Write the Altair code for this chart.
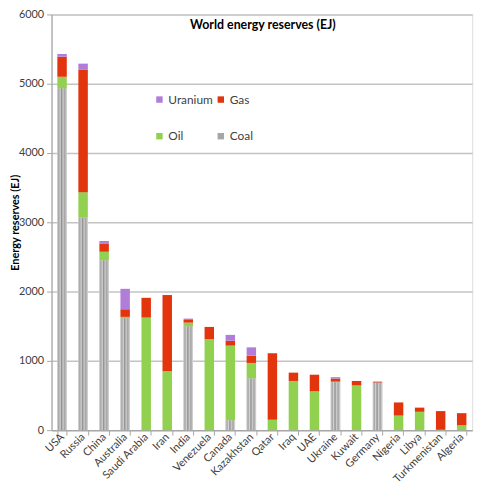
import altair as alt
import pandas as pd

countries = ["USA", "Russia", "China", "Australia", "Saudi Arabia", "Iran", "India",
             "Venezuela", "Canada", "Kazakhstan", "Qatar", "Iraq", "UAE", "Ukraine",
             "Kuwait", "Germany", "Nigeria", "Libya", "Turkmenistan", "Algeria"]
coal = [4930, 3070, 2450, 1610, 0, 0, 1495, 0, 140, 745, 0, 0, 0, 690, 0, 685, 0, 0, 0, 0]
oil = [170, 365, 125, 25, 1625, 850, 57, 1310, 1080, 225, 150, 710, 560, 10, 645, 0, 210, 265, 5, 70]
gas = [290, 1770, 120, 110, 285, 1100, 38, 180, 70, 105, 960, 120, 240, 45, 65, 15, 190, 60, 270, 175]
uranium = [40, 85, 35, 295, 0, 0, 20, 0, 85, 120, 0, 0, 0, 20, 0, 0, 0, 0, 0, 0]

sources = ["Coal", "Oil", "Gas", "Uranium"]
legend_order = ["Uranium", "Gas", "Oil", "Coal"]
colors = ["#b07ed8", "#e2350e", "#92d050", "#a6a6a6"]

rows = []
for i, c in enumerate(countries):
    for k, (s, vals) in enumerate(zip(sources, [coal, oil, gas, uranium])):
        rows.append({"country": c, "source": s, "value": vals[i], "stackorder": k})
df = pd.DataFrame(rows)

FONT = "Lato"
W, H = 425, 420

x_enc = alt.X("country:N", sort=countries, title=None,
              scale=alt.Scale(paddingInner=0.55, paddingOuter=0.275),
              axis=alt.Axis(labelAngle=-45, labelAlign="right", labelBaseline="middle",
                            labelFontSize=11, labelColor="#404040", labelFont=FONT,
                            tickBand="extent", tickSize=5, tickColor="#a6a6a6",
                            domainColor="#a6a6a6", domainWidth=1.2, labelPadding=0,
                            grid=False))

bars = alt.Chart(df).mark_bar().encode(
    x=x_enc,
    y=alt.Y("sum(value):Q", title="Energy reserves (EJ)",
            scale=alt.Scale(domain=[0, 6000], nice=False),
            axis=alt.Axis(values=[0, 1000, 2000, 3000, 4000, 5000, 6000], format="d",
                          labelFontSize=11, labelColor="#404040", labelFont=FONT,
                          titleFont=FONT, titleFontSize=11, titleFontWeight="bold",
                          titleColor="#000000", titleX=-36, titleY=H / 2,
                          titleAngle=-90, titleBaseline="middle", titleAlign="center",
                          tickSize=5, tickColor="#a6a6a6", domainColor="#a6a6a6",
                          domainWidth=1.2, gridColor="#c4c4c4", gridWidth=1.5,
                          labelPadding=3)),
    color=alt.Color("source:N", scale=alt.Scale(domain=legend_order, range=colors),
                    legend=alt.Legend(title=None, orient="none", legendX=103, legendY=80,
                                      direction="horizontal",
                                      columns=2, rowPadding=25, columnPadding=1,
                                      symbolType="square", symbolSize=42,
                                      symbolStrokeWidth=0, labelFont=FONT,
                                      labelFontSize=12, labelColor="#404040",
                                      labelOffset=3, padding=0)),
    order=alt.Order("stackorder:Q", sort="ascending"),
)

coal_tex = alt.Chart(df).transform_filter(alt.datum.source == "Coal").mark_bar(
    fill={"gradient": "linear", "x1": 0, "x2": 1, "y1": 0, "y2": 0,
          "stops": [{"offset": 0, "color": "#dadada"},
                    {"offset": 0.15, "color": "#a0a0a0"},
                    {"offset": 0.3, "color": "#d4d4d4"},
                    {"offset": 0.45, "color": "#8e8e8e"},
                    {"offset": 0.6, "color": "#cccccc"},
                    {"offset": 0.78, "color": "#a2a2a2"},
                    {"offset": 1, "color": "#dcdcdc"}]}
).encode(
    x=alt.X("country:N", sort=countries),
    y=alt.Y("value:Q", stack=None),
)

title = alt.Chart(pd.DataFrame({"t": ["World energy reserves (EJ)"]})).mark_text(
    font=FONT, fontSize=12.5, fontWeight="bold", color="#000000", baseline="middle"
).encode(text="t:N", x=alt.value(W / 2 + 1), y=alt.value(11))

chart = alt.layer(bars, coal_tex, title).properties(
    width=W, height=H,
    autosize=alt.AutoSizeParams(type="none"),
    padding={"left": 44, "top": 4, "right": 20, "bottom": 62},
).configure_view(stroke=None).configure(background="white")

chart.save("out.html", embed_options={"renderer": "svg", "actions": False})
